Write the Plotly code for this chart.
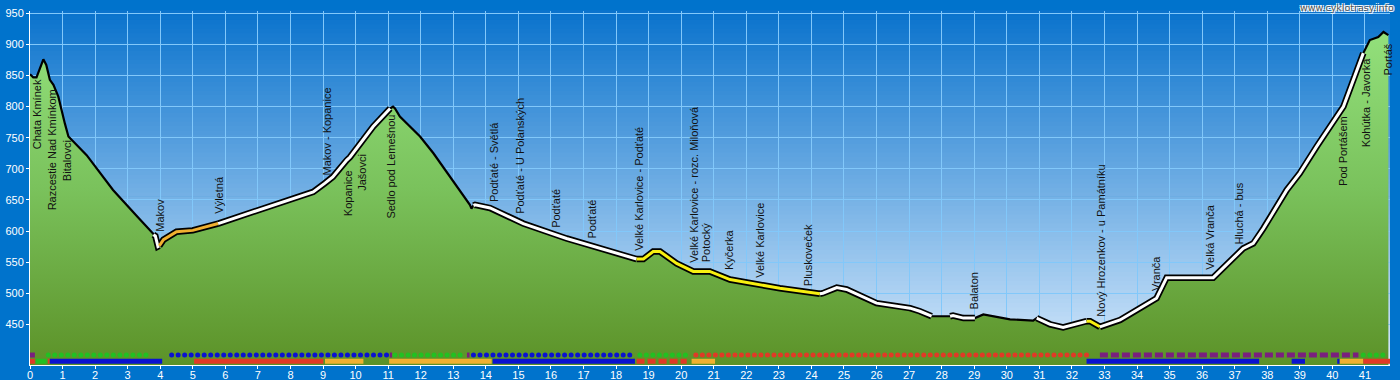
import numpy as np
import plotly.graph_objects as go

# ---------------- data ----------------
km = [0.00, 0.10, 0.20, 0.41, 0.50, 0.61, 0.72, 0.87, 1.07, 1.18, 1.74, 2.55, 3.30,
      3.79, 3.85, 3.93, 3.97, 4.10, 4.50, 5.00, 5.78, 7.06, 7.57, 8.70, 9.06, 9.30,
      9.73, 9.83, 10.54, 11.06, 11.15, 11.21, 11.36, 11.98, 12.39, 13.10, 13.51, 13.56,
      13.62, 13.67, 14.13, 15.15, 16.48, 18.02, 18.63, 18.84, 19.14, 19.35, 19.86, 20.37,
      20.88, 21.50, 23.03, 24.16, 24.26, 24.35, 24.78, 25.08, 26.00, 27.03, 27.33, 27.69,
      28.26, 28.35, 28.67, 29.02, 29.28, 30.10, 30.81, 30.92, 31.33, 31.73, 32.45, 32.56,
      32.86, 33.48, 34.60, 34.91, 36.34, 37.26, 37.57, 37.88, 38.60, 39.00, 39.52, 40.13,
      40.34, 40.95, 41.15, 41.41, 41.57, 41.72]
elev = [852, 847, 847, 876, 867, 843, 835, 816, 773, 752, 722, 666, 623,
        594, 592, 575, 576, 586, 599, 601, 612, 634, 644, 663, 677, 687,
        714, 719, 768, 797, 800, 797, 784, 752, 725, 672, 642, 636,
        641, 642, 637, 612, 588, 564, 555, 555, 567, 567, 548, 535,
        535, 522, 508, 499, 499, 500, 509, 506, 484, 476, 471, 463,
        463, 464, 460, 460, 466, 458, 456, 460, 450, 445, 455, 455,
        446, 457, 492, 525, 525, 572, 580, 604, 666, 693, 736, 784,
        800, 886, 907, 912, 920, 915]

# route line style along the profile (None = plain black line)
seg_start = [0.00, 3.79, 3.97, 5.78, 11.06, 13.62, 18.63, 24.26, 27.69, 28.26, 29.02, 30.92, 32.45, 32.86, 40.95]
seg_end   = [3.79, 3.97, 5.78, 11.06, 13.62, 18.63, 24.26, 27.69, 28.26, 29.02, 30.92, 32.45, 32.86, 40.95, 41.72]
seg_core  = [None, "white", "orange", "white", None, "white", "yellow", "white", None, "white", None,
             "white", "yellow", "white", None]

# place labels
place_names = ["Chata Kmínek", "Razcestie Nad Kmínkom", "Bitalovci", "Makov", "Výletná",
               "Makov - Kopanice", "Kopanice", "Jašovci", "Sedlo pod Lemešnou",
               "Podťaté - Světlá", "Podťaté - U Polanských", "Podťaté", "Podťaté",
               "Velké Karlovice - Podťaté", "Velké Karlovice - rozc. Miloňová", "Potocký",
               "Kyčerka", "Velké Karlovice", "Pluskoveček", "Balaton",
               "Nový Hrozenkov - u Památníku", "Vranča", "Velká Vranča", "Hluchá - bus",
               "Pod Portášem", "Kohútka - Javorka", "Portáš"]
place_km = [0.22, 0.68, 1.16, 3.99, 5.80, 9.11, 9.75, 10.21, 11.08, 14.25, 15.05, 16.15, 17.27,
            18.68, 20.39, 20.76, 21.47, 22.42, 23.90, 28.99, 32.91, 34.60, 36.24, 37.14,
            40.33, 41.03, 41.72]
place_elev = [730, 631, 679, 598, 626, 687, 623, 663, 618, 645, 626, 604, 586,
              567, 548, 548, 535, 524, 510, 473, 460, 502, 537, 577, 671, 733, 849]

# trail marking strips: upper row (dots / dashes), lower row (solid / dashed bars)
rowA_start = [0.00, 0.56, 4.35, 11.05, 11.21, 13.42, 13.62, 18.73, 20.45, 32.86, 40.95]
rowA_end   = [0.15, 3.74, 10.95, 11.12, 13.30, 13.50, 18.61, 20.27, 32.45, 40.80, 41.60]
rowA_color = ["purple", "green", "blue", "purple", "green", "purple", "blue", "green", "red", "purple", "green"]
rowA_kind  = ["dash", "dots", "dots", "dash", "dots", "dash", "dots", "dots", "dots", "dash", "dots"]

rowB_start = [0.00, 0.18, 0.55, 0.61, 5.04, 9.06, 11.03, 14.21, 18.63, 20.32, 32.45, 38.75, 40.15, 40.23, 40.95]
rowB_end   = [0.15, 0.51, 0.60, 4.06, 9.01, 10.24, 14.18, 18.58, 20.17, 21.04, 37.75, 39.16, 40.22, 40.95, 41.77]
rowB_color = ["red", "green", "red", "blue", "red", "orange", "orange", "blue", "red", "orange",
              "blue", "blue", "blue", "orange", "red"]
rowB_kind  = ["solid", "solid", "solid", "solid", "solid", "solid", "solid", "solid", "dash", "solid",
              "solid", "solid", "solid", "solid", "solid"]

x_ticks = list(range(0, 42))
y_ticks = list(range(450, 951, 50))

# ---------------- styles ----------------
COL = {"red": "#e03a26", "blue": "#0a12d0", "green": "#22c022", "orange": "#f0b030",
       "purple": "#7a1f7e", "white": "#ffffff", "yellow": "#f8f010"}
X_RANGE = [0, 41.77]
Y_RANGE = [384.6, 953.7]
ROW_A_Y = 400.6
ROW_B_Y = 390.6

km_a = np.array(km)
elev_a = np.array(elev)

fig = go.Figure()

# sky gradient (below grid)
N = 80
top = np.array([10, 115, 205])
bot = np.array([215, 234, 252])
for i in range(N):
    f = (i + 0.5) / N
    c = bot + (top - bot) * f
    fig.add_shape(type="rect", xref="paper", yref="paper", x0=0, x1=1, y0=i / N, y1=(i + 1) / N + 0.002,
                  fillcolor="rgb(%d,%d,%d)" % tuple(c.astype(int)), line_width=0, layer="below")

# terrain fill
fig.add_trace(go.Scatter(
    x=km, y=elev, mode="lines", line=dict(width=0, color="rgba(0,0,0,0)"),
    fill="tozeroy",
    fillgradient=dict(type="vertical", start=Y_RANGE[0], stop=Y_RANGE[1],
                      colorscale=[[0, "rgb(92,146,40)"], [0.5, "rgb(122,194,92)"], [1, "rgb(150,228,128)"]]),
    hoverinfo="skip"))

# strips
for s, e, c, k in zip(rowA_start, rowA_end, rowA_color, rowA_kind):
    if k == "dots":
        xs = np.arange(s, e + 1e-6, 0.2)
        fig.add_trace(go.Scatter(x=xs, y=[ROW_A_Y] * len(xs), mode="markers",
                                 marker=dict(size=5, color=COL[c], line_width=0), hoverinfo="skip"))
    else:
        fig.add_trace(go.Scatter(x=[s, e], y=[ROW_A_Y, ROW_A_Y], mode="lines",
                                 line=dict(width=5, color=COL[c], dash="8px,3px"), hoverinfo="skip"))
for s, e, c, k in zip(rowB_start, rowB_end, rowB_color, rowB_kind):
    fig.add_trace(go.Scatter(x=[s, e], y=[ROW_B_Y, ROW_B_Y], mode="lines",
                             line=dict(width=5, color=COL[c], dash="8px,3px" if k == "dash" else "solid"),
                             hoverinfo="skip"))

# profile line
fig.add_trace(go.Scatter(x=km, y=elev, mode="lines", line=dict(width=2.2, color="black"), hoverinfo="skip"))
for s, e, c in zip(seg_start, seg_end, seg_core):
    if c is None:
        continue
    m = (km_a >= s - 1e-9) & (km_a <= e + 1e-9)
    fig.add_trace(go.Scatter(x=km_a[m], y=elev_a[m], mode="lines",
                             line=dict(width=6.5, color="black"), hoverinfo="skip"))
for s, e, c in zip(seg_start, seg_end, seg_core):
    if c is None:
        continue
    m = (km_a >= s - 1e-9) & (km_a <= e + 1e-9)
    fig.add_trace(go.Scatter(x=km_a[m], y=elev_a[m], mode="lines",
                             line=dict(width=3, color=COL[c]), hoverinfo="skip"))

# place labels
for name, xk, ye in zip(place_names, place_km, place_elev):
    fig.add_annotation(x=xk, y=ye, text=name, textangle=-90, showarrow=False,
                       xanchor="center", yanchor="bottom", borderpad=0,
                       font=dict(family="Liberation Sans, Arial", size=11, color="#111111"))

fig.add_annotation(xref="paper", yref="paper", x=1, y=1, xshift=5, yshift=4,
                   xanchor="right", yanchor="middle", text="www.cyklotrasy.info", showarrow=False,
                   borderpad=0,
                   font=dict(family="DejaVu Sans", size=9.5, color="#555555",
                             shadow="1px 1px 0 #fff, -1px -1px 0 #fff, 1px -1px 0 #fff, -1px 1px 0 #fff"))

axis_common = dict(showgrid=True, gridcolor="rgb(130,200,250)", gridwidth=1, zeroline=False,
                   showline=True, linecolor="white", linewidth=1, ticks="outside", ticklen=3,
                   tickcolor="white", automargin=False,
                   tickfont=dict(family="Liberation Sans, Arial", size=11, color="white"))
fig.update_xaxes(range=X_RANGE, tickvals=x_ticks, ticklabelstandoff=-3, **axis_common)
fig.update_yaxes(range=Y_RANGE, tickvals=y_ticks, **axis_common)

fig.update_layout(width=1400, height=380, margin=dict(l=30, r=10, t=11, b=15, autoexpand=False),
                  paper_bgcolor="rgb(0,115,204)", plot_bgcolor="rgba(0,0,0,0)",
                  showlegend=False)

fig.write_html("out.html", config={"displayModeBar": False},
               post_script="document.body.style.margin='0';document.body.style.padding='0';"
                           "document.body.style.background='rgb(0,115,204)';")
